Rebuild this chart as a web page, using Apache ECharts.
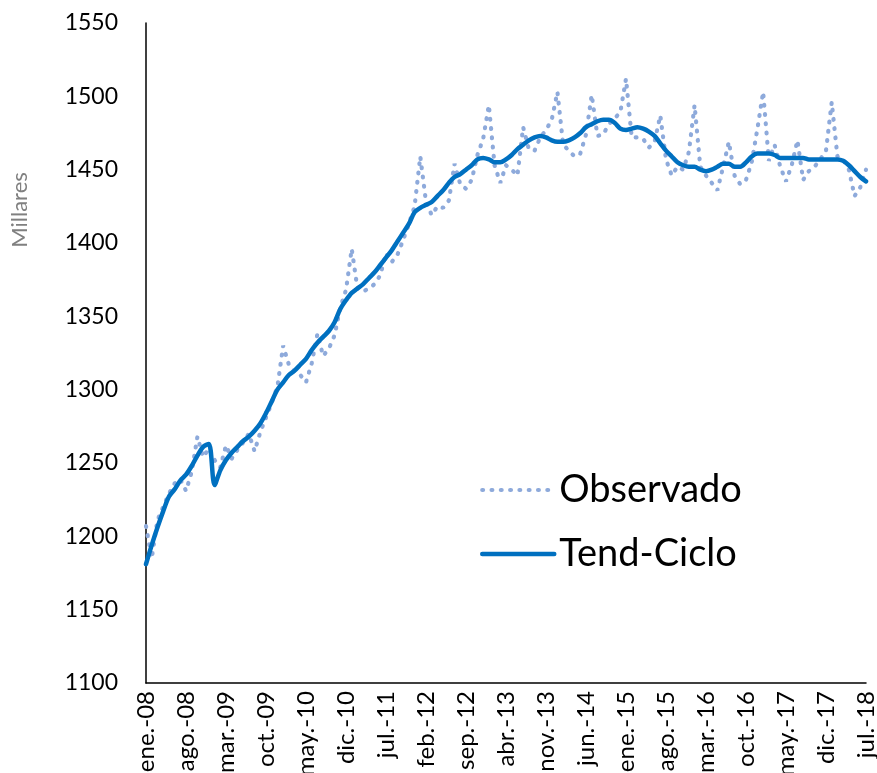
<!DOCTYPE html>
<html>
<head>
<meta charset="utf-8">
<script src="https://cdn.jsdelivr.net/npm/echarts@6/dist/echarts.min.js"></script>
<style>
  html, body { margin: 0; padding: 0; background: #fff; }
  #main { width: 877px; height: 773px; }
</style>
</head>
<body>
<div id="main"></div>
<script>
// meses y años del eje x
var monthNames = ['ene.', 'feb.', 'mar.', 'abr.', 'may.', 'jun.', 'jul.', 'ago.', 'sep.', 'oct.', 'nov.', 'dic.'];
var years = ['08', '09', '10', '11', '12', '13', '14', '15', '16', '17', '18'];
var lastMonth = 7; // jul.-18

var categories = [];
years.forEach(function (y, yi) {
  var n = (yi === years.length - 1) ? lastMonth : 12;
  for (var m = 0; m < n; m++) categories.push(monthNames[m] + '-' + y);
});

// serie observada (miles)
var observado = [
  1207, 1185, 1211, 1220, 1229, 1236, 1239, 1231, 1244, 1268, 1254, 1260,
  1252, 1247, 1262, 1253, 1259, 1264, 1270, 1258, 1271, 1281, 1291, 1302,
  1330, 1317, 1312, 1310, 1305, 1318, 1338, 1323, 1328, 1337, 1356, 1368,
  1396, 1369, 1367, 1369, 1372, 1378, 1393, 1387, 1392, 1402, 1413, 1425,
  1459, 1428, 1419, 1425, 1424, 1429, 1454, 1440, 1437, 1443, 1460, 1471,
  1494, 1453, 1441, 1453, 1450, 1446, 1479, 1464, 1463, 1472, 1477, 1484,
  1503, 1467, 1463, 1459, 1461, 1474, 1501, 1473, 1474, 1481, 1485, 1489,
  1512, 1472, 1472, 1471, 1465, 1469, 1487, 1457, 1446, 1452, 1450, 1462,
  1494, 1452, 1446, 1441, 1436, 1452, 1469, 1446, 1440, 1443, 1455, 1478,
  1503, 1456, 1467, 1452, 1442, 1453, 1470, 1443, 1449, 1452, 1457, 1463,
  1496, 1459, 1457, 1450, 1432, 1438, 1450
];

// tendencia-ciclo
var tendCiclo = [
  1181, 1194, 1206, 1217, 1227, 1232, 1238, 1242, 1248, 1255, 1261, 1263,
  1235, 1245, 1252, 1257, 1261, 1265, 1268, 1272, 1277, 1284, 1292, 1300,
  1305, 1310, 1313, 1317, 1321, 1327, 1332, 1336, 1340, 1346, 1355, 1361,
  1366, 1369, 1372, 1376, 1380, 1385, 1390, 1395, 1401, 1407, 1413, 1421,
  1424, 1426, 1428, 1432, 1436, 1441, 1445, 1447, 1450, 1453, 1457, 1458,
  1457, 1455, 1455, 1457, 1460, 1464, 1467, 1470, 1472, 1473, 1472, 1470,
  1469, 1469, 1470, 1472, 1475, 1479, 1481, 1483, 1484, 1484, 1482, 1478,
  1477, 1478, 1479, 1478, 1476, 1473, 1468, 1463, 1459, 1455, 1453, 1452,
  1452, 1450, 1449, 1450, 1452, 1454, 1454, 1452, 1452, 1455, 1459, 1461,
  1461, 1461, 1460, 1458, 1458, 1458, 1458, 1458, 1457, 1457, 1457, 1457,
  1457, 1457, 1456, 1453, 1449, 1445, 1442
];

var yMin = 1100, yMax = 1550, yStep = 50;

var obsColor = '#8EAADB';
var trendColor = '#0070C0';
var obsLine = { color: obsColor, width: 4.2, type: [0.8, 8.5], cap: 'round' };
var trendLine = { color: trendColor, width: 4.5, cap: 'round', join: 'round' };

var chart = echarts.init(document.getElementById('main'));
var fontFam = 'Lato, "Open Sans", sans-serif';

var option = {
  backgroundColor: '#fff',
  animation: false,
  grid: { left: 146, right: 11, top: 23, bottom: 90, outerBoundsMode: 'none', containLabel: false },
  legend: {
    orient: 'vertical',
    left: 475,
    top: 466,
    itemWidth: 72,
    itemHeight: 12,
    itemGap: 26,
    itemStyle: { opacity: 0 },
    textStyle: { fontSize: 38, color: '#000', fontFamily: fontFam },
    data: [
      { name: 'Observado', lineStyle: obsLine },
      { name: 'Tend-Ciclo', lineStyle: trendLine }
    ]
  },
  graphic: [{
    type: 'text',
    x: 20,
    y: 210,
    rotation: Math.PI / 2,
    style: {
      text: 'Millares',
      fontSize: 22,
      fontFamily: fontFam,
      fill: '#808080',
      textAlign: 'center',
      textVerticalAlign: 'middle'
    }
  }],
  xAxis: {
    type: 'category',
    data: categories,
    boundaryGap: false,
    axisLine: { lineStyle: { color: '#000', width: 1.5 } },
    axisTick: { show: false },
    axisLabel: {
      interval: 6,
      rotate: 90,
      margin: 8,
      fontSize: 24,
      color: '#000',
      fontFamily: fontFam
    },
    splitLine: { show: false }
  },
  yAxis: {
    type: 'value',
    min: yMin,
    max: yMax,
    interval: yStep,
    axisLine: { show: true, lineStyle: { color: '#000', width: 1.5 } },
    axisTick: { show: false },
    axisLabel: {
      fontSize: 23,
      color: '#000',
      margin: 28,
      fontFamily: fontFam,
      formatter: function (v) { return String(v); }
    },
    splitLine: { show: false }
  },
  series: [
    {
      name: 'Observado',
      type: 'line',
      data: observado,
      symbol: 'none',
      lineStyle: obsLine,
      itemStyle: { color: obsColor },
      z: 2
    },
    {
      name: 'Tend-Ciclo',
      type: 'line',
      data: tendCiclo,
      symbol: 'none',
      smooth: 0.3,
      lineStyle: trendLine,
      itemStyle: { color: trendColor },
      z: 3
    }
  ]
};

chart.setOption(option);
</script>
</body>
</html>
